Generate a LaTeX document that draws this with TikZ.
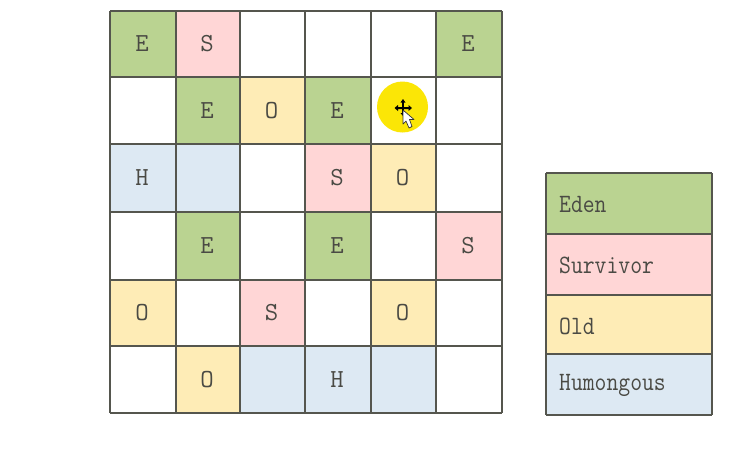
\documentclass[tikz,border=0pt]{standalone}
\definecolor{edenc}{HTML}{BAD391}
\definecolor{survc}{HTML}{FFD6D6}
\definecolor{oldc}{HTML}{FEECB6}
\definecolor{humc}{HTML}{DDE9F3}
\definecolor{linec}{HTML}{55564E}
\definecolor{textc}{HTML}{4A4A44}
\definecolor{cursorc}{HTML}{FBE606}
\tikzset{
  x=1pt,y=-1pt,
  gridline/.style={draw=linec,line width=1.4pt},
  celltext/.style={text=textc,font=\ttfamily\fontsize{26}{28}\selectfont,inner sep=0pt,anchor=center},
  legendtext/.style={text=textc,font=\ttfamily\fontsize{23}{25}\selectfont,inner sep=0pt,anchor=west},
}
\def\xa{{110,176,240,305,371,436,502}}
\def\ya{{11,77,144,212,280,346,413}}
\newcommand{\gcell}[4]{%
  \pgfmathsetmacro{\xl}{\xa[#1]}\pgfmathsetmacro{\xr}{\xa[#1+1]}%
  \pgfmathsetmacro{\yt}{\ya[#2]}\pgfmathsetmacro{\yb}{\ya[#2+1]}%
  \fill[#3] (\xl,\yt) rectangle (\xr,\yb);
  \node[celltext] (c#1#2) at ({(\xl+\xr)/2-1},{(\yt+\yb)/2}) {#4};
}
\begin{document}
\begin{tikzpicture}
\useasboundingbox (0,0) rectangle (732,448);
\fill[white] (0,0) rectangle (732,448);
\gcell{0}{0}{edenc}{E}
\gcell{1}{0}{survc}{S}
\gcell{5}{0}{edenc}{E}
\gcell{1}{1}{edenc}{E}
\gcell{2}{1}{oldc}{O}
\gcell{3}{1}{edenc}{E}
\gcell{0}{2}{humc}{H}
\gcell{1}{2}{humc}{}
\gcell{3}{2}{survc}{S}
\gcell{4}{2}{oldc}{O}
\gcell{1}{3}{edenc}{E}
\gcell{3}{3}{edenc}{E}
\gcell{5}{3}{survc}{S}
\gcell{0}{4}{oldc}{O}
\gcell{2}{4}{survc}{S}
\gcell{4}{4}{oldc}{O}
\gcell{1}{5}{oldc}{O}
\gcell{2}{5}{humc}{}
\gcell{3}{5}{humc}{H}
\gcell{4}{5}{humc}{}
\foreach \x in {110,176,240,305,371,436,502} \draw[gridline] (\x,11) -- (\x,413);
\foreach \y in {11,77,144,212,280,346,413} \draw[gridline] (110,\y) -- (502,\y);
% legend
\fill[edenc] (546,173) rectangle (712,234);
\fill[survc] (546,234) rectangle (712,295);
\fill[oldc] (546,295) rectangle (712,354);
\fill[humc] (546,354) rectangle (712,415);
\foreach \y in {173,234,295,354,415} \draw[gridline] (546,\y) -- (712,\y);
\foreach \x in {546,712} \draw[gridline] (\x,173) -- (\x,415);
\node[legendtext] (leden) at (559,204) {\scalebox{1}[1.15]{Eden}};
\node[legendtext] (lsurv) at (559,265) {\scalebox{1}[1.15]{Survivor}};
\node[legendtext] (lold) at (559,326) {\scalebox{1}[1.15]{Old}};
\node[legendtext] (lhum) at (559,385) {\scalebox{1}[1.15]{Humongous}};
% cursor highlight
\fill[cursorc] (402.5,107) circle (25.5);
\fill[black] (403,99) -- (400.5,102.5) -- (402.2,102.5) -- (402.2,107) -- (398,107) -- (398,105) -- (394.5,108) -- (398,111) -- (398,109) -- (402.2,109) -- (402.2,113) -- (400.5,113) -- (403,116) -- (405.5,113) -- (403.8,113) -- (403.8,109) -- (408.5,109) -- (408.5,111) -- (412,108) -- (408.5,105) -- (408.5,107) -- (403.8,107) -- (403.8,102.5) -- (405.5,102.5) -- cycle;
\filldraw[fill=white,draw=black!80,line width=.7pt,line join=round] (403,110) -- (403,124) -- (406,121) -- (409,128) -- (412,126.5) -- (409.5,119.5) -- (414,119.5) -- cycle;
\end{tikzpicture}
\end{document}
